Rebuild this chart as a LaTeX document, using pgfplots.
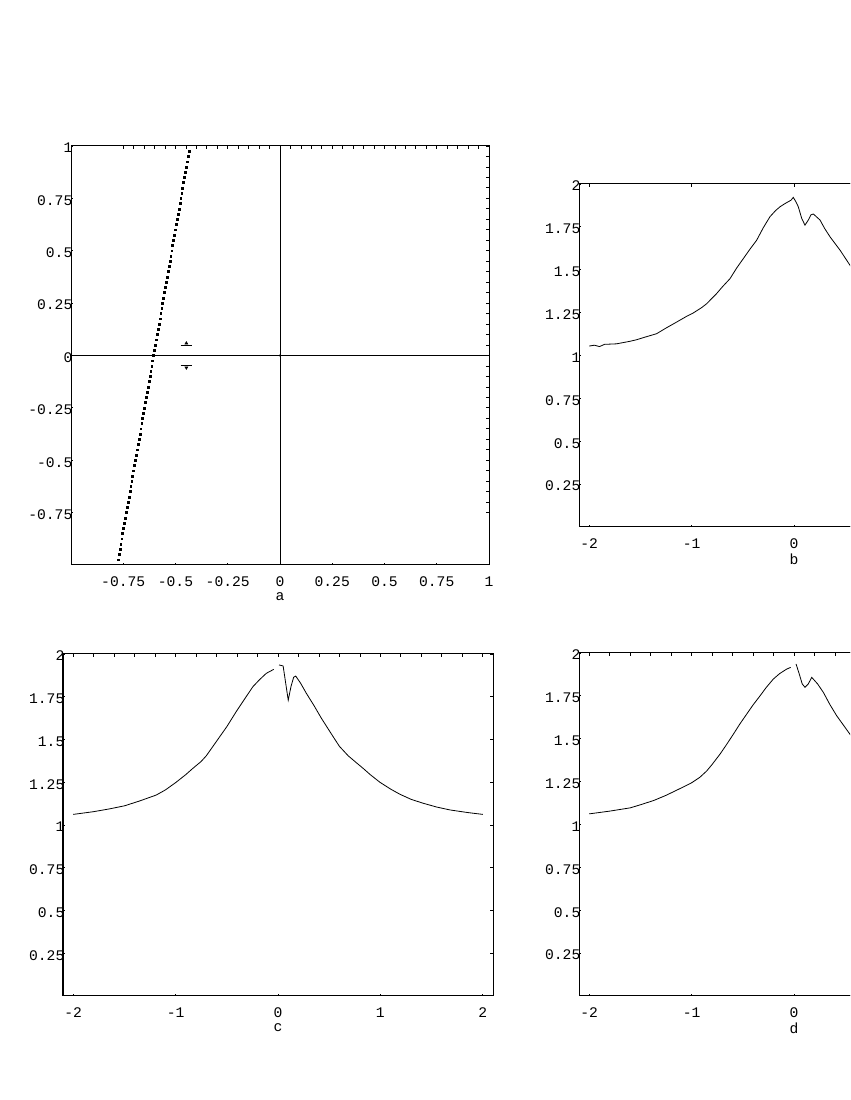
\documentclass[border=0pt]{standalone}
\usepackage{fontspec}
\setmonofont{Liberation Mono}
\usepackage{pgfplots}
\pgfplotsset{compat=1.18}
\newcommand{\lblfont}{\ttfamily\fontsize{11}{13}\selectfont}

\pgfplotsset{
  panel/.style={
    scale only axis, anchor=north west,
    axis line style={line width=0.75pt},
    tick style={black, line width=0.6pt},
    tick align=inside, xtick pos=left, ytick pos=left,
    major tick length=1.5pt,
    ticklabel style={font=\lblfont},
    xticklabel style={yshift=-5pt},
    yticklabel style={anchor=east, inner sep=0pt, xshift=1.2pt, yshift=-1.5pt},
    xlabel style={font=\lblfont, at={(axis description cs:0.5,0)}, anchor=center, yshift=-24pt},
  },
  upper/.style={
    scale only axis, anchor=north west,
    axis line style={line width=0.75pt},
    tick style={black, line width=0.6pt},
    tick align=inside, xtick pos=right, ytick pos=right,
    xticklabels={}, yticklabels={},
    major tick length=2.5pt, minor tick length=2.5pt,
  },
  pa/.style={xmin=-1, xmax=1, ymin=-1, ymax=1, width=313.5pt, height=314.25pt,
    xtick={-0.75,-0.5,-0.25,0,0.25,0.5,0.75,1},
    ytick={-0.75,-0.5,-0.25,0,0.25,0.5,0.75,1}},
  pb/.style={xmin=-2.1, xmax=2.1, ymin=0, ymax=2, width=322.5pt, height=257.25pt,
    xtick={-2,-1,0,1,2}, ytick={0.25,0.5,0.75,1,1.25,1.5,1.75,2}},
  curve/.style={black, line width=0.6pt, no marks},
}

\begin{document}
\begin{tikzpicture}
\useasboundingbox (0,0) rectangle (637.5pt,825pt);
\clip (0,0) rectangle (637.5pt,825pt);

% --- a ---
\begin{axis}[panel, pa, at={(53.25pt,715.5pt)}, xlabel={a},
  xticklabels={-0.75,-0.5,-0.25,0,0.25,0.5,0.75,1},
  yticklabels={-0.75,-0.5,-0.25,0,0.25,0.5,0.75,1}]
  \addplot[curve] coordinates {(-1,0) (1,0)};
  \addplot[curve] coordinates {(0,-1) (0,1)};
  \addplot[only marks, mark=square*, mark size=0.7pt, black] coordinates {
    (-0.7747,-0.975) (-0.7703,-0.95) (-0.7660,-0.925) (-0.7616,-0.9)
    (-0.7573,-0.875) (-0.7529,-0.85) (-0.7486,-0.825) (-0.7442,-0.8)
    (-0.7399,-0.775) (-0.7355,-0.75) (-0.7312,-0.725) (-0.7268,-0.7)
    (-0.7225,-0.675) (-0.7181,-0.65) (-0.7138,-0.625) (-0.7094,-0.6)
    (-0.7051,-0.575) (-0.7007,-0.55) (-0.6964,-0.525) (-0.6920,-0.5)
    (-0.6877,-0.475) (-0.6833,-0.45) (-0.6790,-0.425) (-0.6746,-0.4)
    (-0.6703,-0.375) (-0.6659,-0.35) (-0.6616,-0.325) (-0.6572,-0.3)
    (-0.6529,-0.275) (-0.6485,-0.25) (-0.6442,-0.225) (-0.6398,-0.2)
    (-0.6355,-0.175) (-0.6311,-0.15) (-0.6268,-0.125) (-0.6224,-0.1)
    (-0.6181,-0.075) (-0.6137,-0.05) (-0.6094,-0.025) (-0.6050,0)
    (-0.6007,0.025) (-0.5963,0.05) (-0.5920,0.075) (-0.5876,0.1)
    (-0.5833,0.125) (-0.5789,0.15) (-0.5746,0.175) (-0.5702,0.2)
    (-0.5659,0.225) (-0.5615,0.25) (-0.5572,0.275) (-0.5528,0.3)
    (-0.5485,0.325) (-0.5441,0.35) (-0.5398,0.375) (-0.5354,0.4)
    (-0.5311,0.425) (-0.5267,0.45) (-0.5224,0.475) (-0.5180,0.5)
    (-0.5137,0.525) (-0.5093,0.55) (-0.5050,0.575) (-0.5006,0.6)
    (-0.4963,0.625) (-0.4919,0.65) (-0.4876,0.675) (-0.4832,0.7)
    (-0.4789,0.725) (-0.4745,0.75) (-0.4702,0.775) (-0.4658,0.8)
    (-0.4615,0.825) (-0.4571,0.85) (-0.4528,0.875) (-0.4484,0.9)
    (-0.4441,0.925) (-0.4397,0.95) (-0.4354,0.975)
  };
  \addplot[curve] coordinates {(-0.476,0.048) (-0.419,0.048)};
  \addplot[curve] coordinates {(-0.476,-0.048) (-0.419,-0.048)};
  \addplot[only marks, mark=triangle*, mark size=1.3pt, black] coordinates {(-0.448,0.058)};
  \addplot[only marks, mark=triangle*, mark size=1.3pt, black, mark options={rotate=180}] coordinates {(-0.448,-0.058)};
  \addplot[only marks, mark=*, mark size=0.6pt, black] coordinates {(0,0)};
\end{axis}
\begin{axis}[upper, pa, at={(53.25pt,715.5pt)}, minor tick num=4]
\end{axis}

% --- b ---
\begin{axis}[panel, pb, at={(434.25pt,687pt)}, xlabel={b},
  xticklabels={-2,-1,0,1,2},
  yticklabels={0.25,0.5,0.75,1,1.25,1.5,1.75,2}]
  \addplot[curve] coordinates {
    (-2.0,1.055) (-1.95,1.06) (-1.9,1.052) (-1.85,1.065) (-1.733,1.068)
    (-1.6,1.083) (-1.537,1.092) (-1.45,1.108) (-1.342,1.127) (-1.25,1.16)
    (-1.146,1.195) (-1.05,1.228) (-0.984,1.248) (-0.9,1.28) (-0.853,1.302)
    (-0.756,1.361) (-0.7,1.40) (-0.625,1.448) (-0.56,1.51) (-0.495,1.565)
    (-0.43,1.62) (-0.365,1.672) (-0.3,1.745) (-0.235,1.809) (-0.18,1.845)
    (-0.137,1.867) (-0.09,1.885) (-0.055,1.897) (-0.03,1.905) (-0.007,1.922)
    (0.02,1.895) (0.042,1.867) (0.075,1.80) (0.107,1.760) (0.14,1.79)
    (0.165,1.82) (0.189,1.825) (0.254,1.79) (0.3,1.74) (0.352,1.692)
    (0.45,1.614) (0.547,1.526) (0.65,1.43) (0.75,1.372) (0.85,1.32)
    (1.0,1.250) (1.2,1.18) (1.4,1.13) (1.6,1.10) (1.8,1.075) (2.0,1.06)
  };
\end{axis}
\begin{axis}[upper, pb, at={(434.25pt,687pt)}, xminorticks=false, yminorticks=false]
\end{axis}

% --- c ---
\begin{axis}[panel, pb, at={(47.25pt,334.5pt)}, height=256.5pt, xlabel={c},
  xticklabels={-2,-1,0,1,2},
  yticklabels={0.25,0.5,0.75,1,1.25,1.5,1.75,2}]
  \addplot[curve] coordinates {
    (-2,1.062) (-1.8,1.078) (-1.648,1.094) (-1.5,1.112) (-1.354,1.140)
    (-1.19,1.175) (-1.1,1.205) (-0.995,1.250) (-0.9,1.295) (-0.832,1.331)
    (-0.75,1.372) (-0.70,1.405) (-0.6,1.490) (-0.5,1.575) (-0.408,1.663)
    (-0.3,1.760) (-0.245,1.809) (-0.18,1.850) (-0.114,1.887) (-0.042,1.910)
  };
  \addplot[curve] coordinates {
    (0.01,1.936) (0.05,1.93) (0.075,1.83) (0.10,1.73) (0.127,1.81)
    (0.153,1.864) (0.173,1.871) (0.22,1.83) (0.277,1.77) (0.35,1.70)
    (0.424,1.624) (0.538,1.517) (0.6,1.46) (0.685,1.405) (0.75,1.372)
    (0.832,1.331) (0.9,1.295) (0.995,1.250) (1.1,1.21) (1.19,1.180)
    (1.3,1.15) (1.419,1.127) (1.55,1.105) (1.68,1.088) (1.85,1.073) (2.0,1.062)
  };
\end{axis}
\begin{axis}[upper, pb, at={(47.25pt,334.5pt)}, height=256.5pt, minor x tick num=4, yminorticks=false]
\end{axis}

% --- d ---
\begin{axis}[panel, pb, at={(434.25pt,335.25pt)}, xlabel={d},
  xticklabels={-2,-1,0,1,2},
  yticklabels={0.25,0.5,0.75,1,1.25,1.5,1.75,2}]
  \addplot[curve] coordinates {
    (-2,1.062) (-1.8,1.078) (-1.60,1.097) (-1.5,1.115) (-1.37,1.14)
    (-1.25,1.17) (-1.146,1.2) (-1.05,1.228) (-0.998,1.244) (-0.92,1.275)
    (-0.853,1.312) (-0.8,1.35) (-0.723,1.41) (-0.66,1.465) (-0.593,1.526)
    (-0.53,1.585) (-0.463,1.643) (-0.4,1.697) (-0.332,1.75) (-0.27,1.80)
    (-0.202,1.848) (-0.14,1.88) (-0.072,1.906) (-0.033,1.916)
  };
  \addplot[curve] coordinates {
    (0.02,1.936) (0.05,1.88) (0.08,1.82) (0.107,1.80) (0.14,1.82)
    (0.173,1.858) (0.23,1.82) (0.287,1.77) (0.35,1.70) (0.417,1.634)
    (0.547,1.526) (0.65,1.44) (0.75,1.372) (0.85,1.32) (1.0,1.25)
    (1.2,1.18) (1.4,1.13) (1.6,1.10) (1.8,1.075) (2.0,1.062)
  };
\end{axis}
\begin{axis}[upper, pb, at={(434.25pt,335.25pt)}, minor x tick num=4, yminorticks=false]
\end{axis}
\end{tikzpicture}
\end{document}
